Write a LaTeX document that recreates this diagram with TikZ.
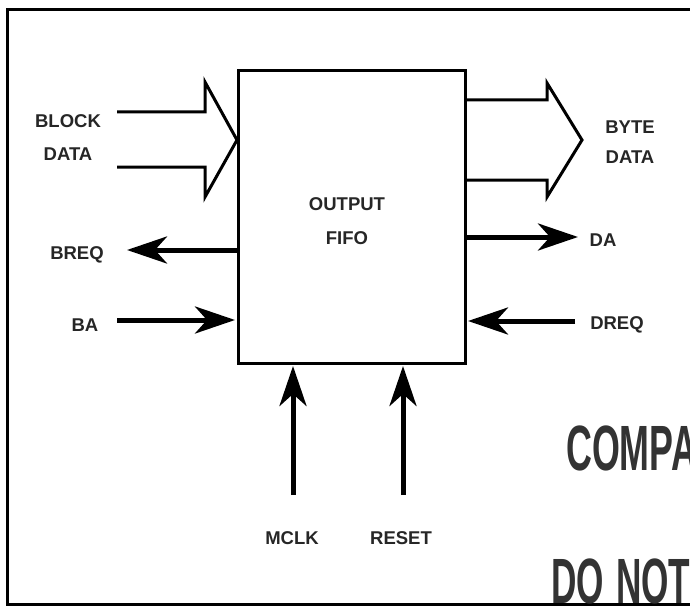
\documentclass[tikz,border=0pt]{standalone}
\usepackage{fontspec}
\usepackage{graphicx}
\setmainfont{Liberation Sans}
\usetikzlibrary{arrows.meta}
\begin{document}
\begin{tikzpicture}[x=1pt,y=-1pt,
  lbl/.style={font=\fontsize{18.5}{22}\selectfont\bfseries, inner sep=0pt, anchor=base, text=black!85},
  sig/.style={line width=5pt, -{Stealth[length=40pt,width=27pt,inset=12pt]}},
  bus/.style={line width=3pt, line join=miter},
  big/.style={font=\fontsize{64}{64}\selectfont\bfseries, inner sep=0pt, anchor=base west, text=black!80}]
\useasboundingbox (0,0) rectangle (690,607);
% frame
\draw[line width=3pt] (690,10) -- (7,10) -- (7,604) -- (690,604);
% main block
\node[draw, line width=3pt, minimum width=227pt, minimum height=293pt, anchor=north west, inner sep=0pt] (fifo) at (237,69) {};
\node[lbl] (t1) at (347,210) {OUTPUT};
\node[lbl] (t2) at (347,244) {FIFO};
% bus arrows
\coordinate (bdin) at (237,140);
\draw[bus] (117,112) -- (205,112) -- (205,82) -- (bdin) -- (205,197) -- (205,167) -- (117,167);
\coordinate (bdout) at (582,140);
\draw[bus] (464,100) -- (547,100) -- (547,83) -- (bdout) -- (547,197) -- (547,180) -- (464,180);
% labels
\node[lbl] (block) at (68,128) {BLOCK};
\node[lbl] (data1) at (68,160) {DATA};
\node[lbl] (byte) at (630,133) {BYTE};
\node[lbl] (data2) at (630,163) {DATA};
\node[lbl] (breq) at (77,259) {BREQ};
\node[lbl] (ba) at (85,331) {BA};
\node[lbl] (da) at (603,246) {DA};
\node[lbl] (dreq) at (617,329) {DREQ};
\node[lbl] (mclk) at (292,544) {MCLK};
\node[lbl] (reset) at (401,544) {RESET};
% signal arrows
\coordinate (breqS) at (237,250); \coordinate (breqE) at (127,250);
\coordinate (baS) at (117,320); \coordinate (baE) at (235,320);
\coordinate (daS) at (464,237); \coordinate (daE) at (578,237);
\coordinate (dreqS) at (575,321); \coordinate (dreqE) at (468,321);
\coordinate (mclkS) at (293,495); \coordinate (mclkE) at (293,366);
\coordinate (resetS) at (403,495); \coordinate (resetE) at (403,366);
\draw[sig] (breqS) -- (breqE);
\draw[sig] (baS) -- (baE);
\draw[sig] (daS) -- (daE);
\draw[sig] (dreqS) -- (dreqE);
\draw[sig] (mclkS) -- (mclkE);
\draw[sig] (resetS) -- (resetE);
% cut-off stamp text (cut by the right edge, as in the reference)
\node[big] (compa) at (566,470) {\scalebox{0.56}[1]{COMPA}};
\node[big] (donot) at (551,603) {\scalebox{0.55}[1]{DO\hspace{22pt}NOT}};
\end{tikzpicture}
\end{document}
